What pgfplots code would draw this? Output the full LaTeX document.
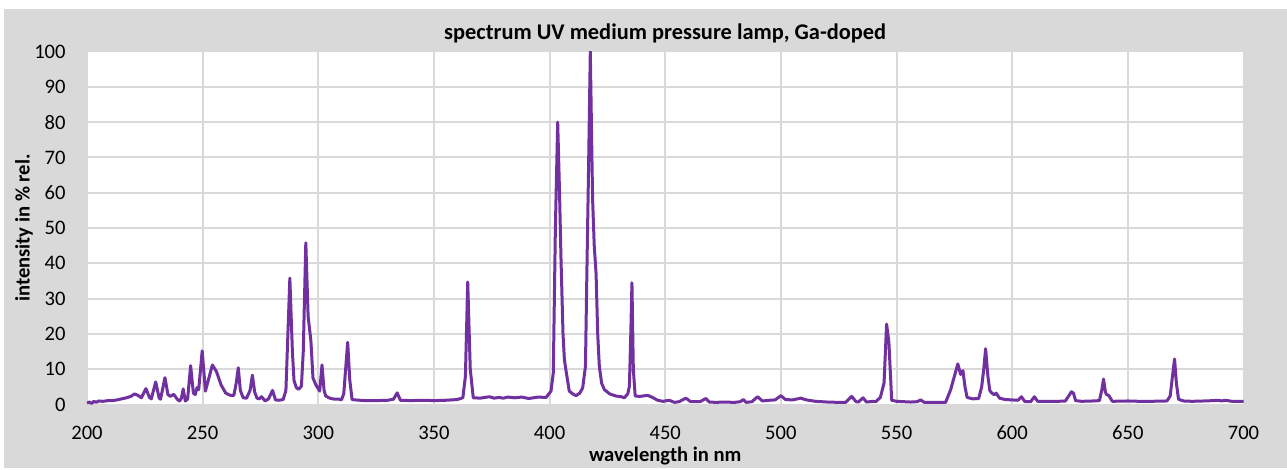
\documentclass[border=0pt]{standalone}
\usepackage{fontspec}
\setmainfont{Carlito}
\usepackage{pgfplots}
\pgfplotsset{compat=1.18}
\definecolor{bggray}{HTML}{D9D9D9}
\definecolor{gridgray}{HTML}{D9D9D9}
\definecolor{lampviolet}{HTML}{7030A0}

\begin{document}
\begin{tikzpicture}
% page frame: 1px = 0.5bp, axis south west corner at (0,0)
\path[use as bounding box, fill=white] (-43.5bp,-32.75bp) rectangle (600bp,202.25bp);
\fill[bggray] (-41.5bp,-31.75bp) rectangle (600bp,197.75bp);
\begin{axis}[
    scale only axis,
    width=578.25bp,
    height=176.5bp,
    xmin=200, xmax=700,
    ymin=0, ymax=100,
    xtick={200,250,...,700},
    ytick={0,10,...,100},
    major tick length=0pt,
    axis line style={draw=none},
    axis background/.style={fill=white},
    grid=major,
    major grid style={gridgray, line width=1bp},
    /pgf/number format/assume math mode=true,
    tick label style={font=\fontsize{10.3bp}{12bp}\selectfont, inner sep=0pt, text=black},
    xticklabel style={anchor=base, yshift=-17.5bp},
    yticklabel style={anchor=east, xshift=-10.5bp},
    title={spectrum UV medium pressure lamp, Ga-doped},
    title style={at={(axis description cs:0.5,1)}, anchor=base,
        inner sep=0pt, font=\fontsize{11.2bp}{13bp}\selectfont\bfseries},
    xlabel={wavelength in nm},
    xlabel style={at={(axis description cs:0.5,0)}, anchor=base, yshift=-28.25bp,
        inner sep=0pt, font=\fontsize{10.3bp}{12bp}\selectfont\bfseries},
    ylabel={intensity in \% rel.},
    ylabel style={at={(axis description cs:0,0.5)}, anchor=center,
        yshift=31.5bp, inner sep=0pt, font=\fontsize{10.3bp}{12bp}\selectfont\bfseries},
]
\addplot[color=lampviolet, line width=1.5bp, line join=round] coordinates {
(200,0.4) (201,0.7) (202,0.3) (203,0.9) (204,0.6) (205,1.0) (207,0.9) (209,1.1)
(211,1.1) (213,1.3) (215,1.6) (217,1.9) (219,2.3) (220.5,3.0) (222,2.6) (223.5,1.9)
(225.5,4.5) (227,2.0) (227.8,1.6) (229.7,6.4) (231.2,1.8) (231.8,1.5) (233.7,7.6)
(235,2.8) (236,2.3) (237.5,2.9) (239,1.5) (240,1.0) (240.8,1.7) (241.6,4.4)
(242.5,1.0) (243.5,1.5) (244.8,11.0) (246,3.2) (246.8,2.8) (247.6,4.8) (248.3,4.2)
(249.8,15.2) (251.2,3.8) (252.5,7) (254.2,11.2) (256,9.3) (258,5.5) (260,3.2)
(262,2.6) (263.5,2.6) (264.5,6) (265.4,10.4) (266.3,4) (267.5,1.9) (269,1.8)
(270.5,4) (271.5,8.3) (272.5,3.5) (273.5,1.8) (274.5,1.6) (275.5,2.2) (277,1.0)
(278.5,1.6) (280.2,4.0) (281.5,1.3) (283,1.2) (284.8,1.4) (286,4) (287.7,35.8)
(288.8,15) (289.5,6.8) (290.5,4.8) (291.5,4.3) (292.7,5.2) (293.5,15) (294.6,45.8)
(295.6,25) (296.2,21.5) (296.8,18) (297.7,7.5) (299,5.5) (300.6,3.8) (301.6,11.2)
(302.5,4) (303.2,2.4) (305,1.8) (307,1.5) (309,1.5) (310,1.3) (311,3) (312.7,17.6)
(313.6,7) (314.6,1.4) (316,1.3) (320,1.1) (325,1.1) (330,1.2) (332.5,1.5)
(334.1,3.3) (335.5,1.2) (340,1.1) (345,1.2) (350,1.1) (355,1.2) (360,1.4)
(362.5,1.9) (363.6,8) (364.6,34.7) (365.7,10) (367,1.9) (370,1.8) (372,2) (374,2.2)
(376,1.8) (378,2) (380,1.8) (382,2.1) (385,1.9) (388,2.1) (391,1.7) (395,2.1)
(398.5,2.0) (400.6,3.8) (401.6,9.0) (402.5,50) (403.5,80.0) (404.3,60) (404.9,42)
(405.8,20) (406.4,12.7) (407,10) (408.5,3.8) (410,3.0) (411.4,2.5) (413,3.2)
(414.3,4.7) (415.5,10.8) (416.3,45) (416.8,65) (417.6,100) (418.3,70) (418.6,58)
(419.3,45) (420.1,37) (420.8,20) (421.5,10.8) (422.5,6) (423.7,4.2) (426,3)
(428.7,2.4) (431,2.2) (432.3,1.9) (433.8,3) (434.5,5.2) (435.1,20) (435.6,34.5)
(436.2,10) (437,2.4) (439,2.3) (440.2,2.4) (442.4,2.6) (444.5,2) (446.7,1.2)
(449,0.9) (451.7,1.2) (454,0.6) (456,0.8) (458.9,1.8) (461,0.8) (465,0.8)
(467.6,1.7) (469,0.7) (472,0.6) (475,0.7) (480,0.6) (482.5,0.8) (483.7,1.4)
(485,0.6) (487.5,0.8) (489.9,2.2) (492,1.0) (495,1.2) (497.5,1.3) (500,2.5)
(502,1.4) (505,1.3) (508.6,1.8) (511,1.3) (515,0.9) (520,0.7) (525,0.6) (528,0.6)
(530.6,2.3) (532.5,0.8) (533.5,0.7) (535.5,1.9) (537,0.7) (540,0.9) (541,0.8)
(543,2) (544.6,6.1) (545.7,22.8) (546.7,17.5) (547.9,1.2) (550,0.9) (553,0.8)
(556,0.7) (559,0.8) (560.4,1.3) (562,0.6) (566,0.6) (571.2,0.6) (573.4,4.2)
(575,8) (576.5,11.5) (577.7,8.5) (578.7,9.6) (579.6,5) (580.5,2.0) (583,1.6)
(585.5,1.7) (586.8,5) (587.7,10) (588.5,15.8) (589.5,8) (590.3,4) (591.1,3.3)
(592.2,2.8) (593.1,3.2) (594.5,1.8) (597,1.4) (600,1.3) (602.5,1.2) (604,2.2)
(605.5,0.8) (608,0.8) (609.6,2.2) (611,0.9) (615,0.9) (620,0.9) (623,1.0)
(624.5,2.5) (625.6,3.6) (626.5,3.2) (627.4,1.1) (630,0.9) (635,1.0) (637.7,1.1)
(638.7,4) (639.5,7.2) (640.3,3.5) (640.8,2.8) (641.7,2.6) (643.3,0.9) (650,1.0)
(655,0.9) (660,0.9) (666.9,1.0) (668.3,2.4) (669.3,8) (670.2,12.9) (671,6)
(671.9,1.5) (674,1.0) (677.7,0.9) (683,1.0) (687,1.1) (689.2,1.2) (690.5,1.0)
(692,1.2) (695,0.9) (700,0.9)
};
\end{axis}
\end{tikzpicture}
\end{document}
